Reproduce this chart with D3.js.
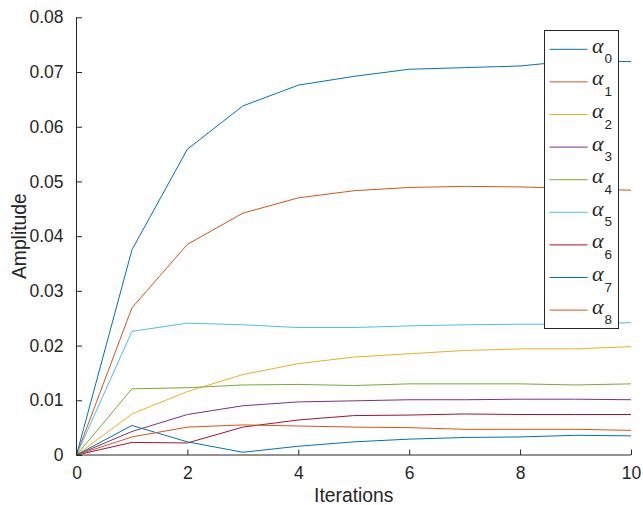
<!DOCTYPE html>
<html>
<head>
<meta charset="utf-8">
<script src="https://cdn.jsdelivr.net/npm/d3@7"></script>
<style>
  body { margin: 0; background: #fff; }
  text { font-family: "Liberation Sans", Arial, sans-serif; fill: #262626; }
</style>
</head>
<body>
<svg id="chart"></svg>
<script>
// data
var iterations = [0, 1, 2, 3, 4, 5, 6, 7, 8, 9, 10]
var alpha0 = [0, 0.0375, 0.0559, 0.0638, 0.0676, 0.0692, 0.0705, 0.0708, 0.0711, 0.0721, 0.0719]
var alpha1 = [0, 0.0269, 0.0385, 0.0442, 0.0470, 0.0483, 0.0489, 0.0491, 0.0490, 0.0487, 0.0484]
var alpha2 = [0, 0.0075, 0.0116, 0.0147, 0.0167, 0.0179, 0.0185, 0.0191, 0.0194, 0.0194, 0.0198]
var alpha3 = [0, 0.0043, 0.0074, 0.0090, 0.0097, 0.0099, 0.0101, 0.0101, 0.0102, 0.0102, 0.0101]
var alpha4 = [0, 0.0121, 0.0123, 0.0128, 0.0129, 0.0127, 0.0130, 0.0130, 0.0130, 0.0128, 0.0130]
var alpha5 = [0, 0.0226, 0.0241, 0.0238, 0.0233, 0.0233, 0.0236, 0.0238, 0.0239, 0.0239, 0.0242]
var alpha6 = [0, 0.0023, 0.0022, 0.0051, 0.0064, 0.0072, 0.0073, 0.0075, 0.0074, 0.0074, 0.0074]
var alpha7 = [0, 0.0054, 0.0024, 0.0005, 0.0016, 0.0024, 0.0029, 0.0032, 0.0033, 0.0036, 0.0035]
var alpha8 = [0, 0.0033, 0.0051, 0.0055, 0.0053, 0.0051, 0.0050, 0.0047, 0.0047, 0.0047, 0.0045]
var seriesNames = ["0", "1", "2", "3", "4", "5", "6", "7", "8"]
var xTicks = [0, 2, 4, 6, 8, 10]
var yTicks = [0, 0.01, 0.02, 0.03, 0.04, 0.05, 0.06, 0.07, 0.08]

var allSeries = [alpha0, alpha1, alpha2, alpha3, alpha4, alpha5, alpha6, alpha7, alpha8]
var colors = ["#0072BD", "#D95319", "#EDB120", "#7E2F8E", "#77AC30", "#4DBEEE", "#A2142F", "#0072BD", "#D95319"]

var width = 643,
    height = 505
var margin = {left: 76.5, right: 12, top: 17.3, bottom: 50}

var svg = d3.select("#chart")
    .attr("width", width)
    .attr("height", height)

var x = d3.scaleLinear()
    .domain([0, 10])
    .range([margin.left, width - margin.right])

var y = d3.scaleLinear()
    .domain([0, 0.08])
    .range([height - margin.bottom, margin.top])

var line = d3.line()
    .x(function(d, i){ return x(iterations[i]) })
    .y(function(d){ return y(d) })

// series
svg.append("g")
  .selectAll("path")
  .data(allSeries)
  .enter()
  .append("path")
    .attr("d", line)
    .attr("fill", "none")
    .attr("stroke", function(d, i){ return colors[i] })
    .attr("stroke-width", 1)

// axes, ticks pointing inwards like matlab
var xAxis = svg.append("g")
    .attr("transform", "translate(0," + y(0) + ")")
    .call(d3.axisBottom(x).tickValues(xTicks).tickSize(-5.5).tickPadding(12).tickFormat(d3.format("d")))
var yAxis = svg.append("g")
    .attr("transform", "translate(" + x(0) + ",0)")
    .call(d3.axisLeft(y).tickValues(yTicks).tickSize(-5.5).tickPadding(13).tickFormat(function(d){ return d === 0 ? "0" : d3.format(".2f")(d) }))

svg.selectAll(".domain").attr("stroke", "#262626").attr("stroke-width", 1)
svg.selectAll(".tick line").attr("stroke", "#262626")
svg.selectAll(".tick text")
    .style("font-size", "17.5px")
    .style("font-family", "'Liberation Sans', Arial, sans-serif")
    .attr("fill", "#262626")
xAxis.selectAll(".domain").attr("d", "M" + x(0) + ",0H" + x(10))
yAxis.selectAll(".domain").attr("d", "M0," + y(0) + "V" + y(0.08))

// axis labels
svg.append("text")
    .attr("x", (x(0) + x(10)) / 2)
    .attr("y", 502)
    .attr("text-anchor", "middle")
    .style("font-size", "19.3px")
    .text("Iterations")

svg.append("text")
    .attr("transform", "translate(26," + (y(0) + y(0.08)) / 2 + ") rotate(-90)")
    .attr("text-anchor", "middle")
    .style("font-size", "19.3px")
    .text("Amplitude")

// legend
var legend = svg.append("g")
legend.append("rect")
    .attr("x", 544.5)
    .attr("y", 30.5)
    .attr("width", 74)
    .attr("height", 298)
    .attr("fill", "#fff")
    .attr("stroke", "#262626")
    .attr("stroke-width", 1)

var entry = legend.selectAll("g.entry")
    .data(seriesNames)
  .enter()
  .append("g")
    .attr("class", "entry")
    .attr("transform", function(d, i){ return "translate(0," + (49.3 + i * 32.6) + ")" })

entry.append("line")
    .attr("x1", 549.5)
    .attr("x2", 587.5)
    .attr("stroke", function(d, i){ return colors[i] })
    .attr("stroke-width", 1)

var label = entry.append("text")
    .attr("x", 592)
    .attr("y", 3.5)
label.append("tspan")
    .style("font-family", "'Liberation Serif', 'DejaVu Serif', serif")
    .style("font-style", "italic")
    .style("font-size", "22px")
    .text("α")
label.append("tspan")
    .attr("dy", 10.5)
    .attr("dx", 1)
    .style("font-size", "13.5px")
    .text(function(d){ return d })
</script>
</body>
</html>
